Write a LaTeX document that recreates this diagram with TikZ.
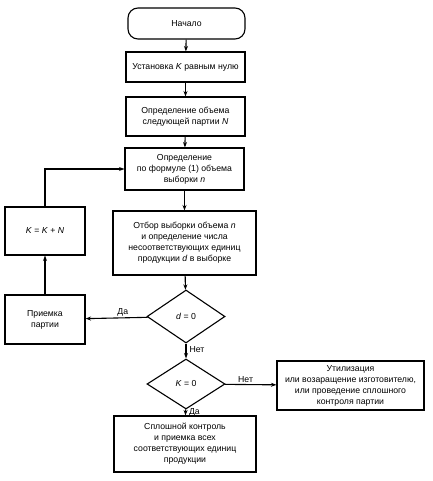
\documentclass[tikz,border=0pt]{standalone}
\usepackage{fontspec}
\setmainfont{Liberation Sans}
\usetikzlibrary{shapes.geometric,arrows.meta}
\begin{document}
\begin{tikzpicture}[x=1pt,y=-1pt,
  box/.style={draw,line width=1.1pt,align=center,font=\fontsize{8.7}{11}\selectfont,inner sep=0pt},
  dia/.style={draw,line width=1.1pt,diamond,inner sep=0pt,font=\fontsize{8.7}{11}\selectfont},
  lbl/.style={font=\fontsize{8.7}{10}\selectfont,inner sep=1pt},
  arr/.style={line width=1.1pt,-{Stealth[length=5.5pt,width=4pt]}}]
\useasboundingbox (0,0) rectangle (432,481);
\node[box,rounded corners=10pt,minimum width=117pt,minimum height=31pt] (start) at (186.5,23.5) {Начало};
\node[box,minimum width=119pt,minimum height=30pt] (k0) at (185.5,67) {Установка \textit{K} равным нулю};
\node[box,minimum width=119pt,minimum height=39pt] (vol) at (185.5,116.5) {Определение объема\\следующей партии \textit{N}};
\node[box,minimum width=119pt,minimum height=42pt] (form) at (184.5,169) {Определение\\по формуле (1) объема\\выборки \textit{n}};
\node[box,minimum width=80pt,minimum height=48pt] (kkn) at (45,231) {\textit{K} = \textit{K} + \textit{N}};
\node[box,minimum width=143pt,minimum height=64pt] (sel) at (184.5,243) {Отбор выборки объема \textit{n}\\и определение числа\\несоответствующих единиц\\продукции \textit{d} в выборке};
\node[dia,minimum width=78pt,minimum height=53pt] (d0) at (186,316.5) {\textit{d} = 0};
\node[box,minimum width=80pt,minimum height=49pt] (acc) at (45,319.5) {Приемка\\партии};
\node[dia,minimum width=78pt,minimum height=50pt] (kz) at (186,384) {\textit{K} = 0};
\node[box,minimum width=147pt,minimum height=49pt] (util) at (350.5,385.5) {Утилизация\\или возаращение изготовителю,\\или проведение сплошного\\контроля партии};
\node[box,minimum width=142pt,minimum height=56pt] (full) at (185,444) {Сплошной контроль\\и приемка всех\\соответствующих единиц\\продукции};
\draw[arr] (start) -- (k0);
\draw[arr] (k0) -- (vol);
\draw[arr] (vol) -- (form);
\draw[arr] (form) -- (sel);
\draw[arr] (sel) -- (d0);
\draw[arr] (d0) -- node[lbl,above,pos=0.4]{Да} (acc);
\draw[arr] (acc) -- (kkn);
\draw[arr] (kkn.north) |- (form.west);
\draw[arr] (d0) -- node[lbl,anchor=west,pos=0.4,xshift=2pt]{Нет} (kz);
\draw[arr] (kz) -- node[lbl,above,pos=0.4]{Нет} (util);
\draw[arr] (kz) -- node[lbl,anchor=west,pos=0.45,xshift=2pt]{Да} (full);
\end{tikzpicture}
\end{document}
